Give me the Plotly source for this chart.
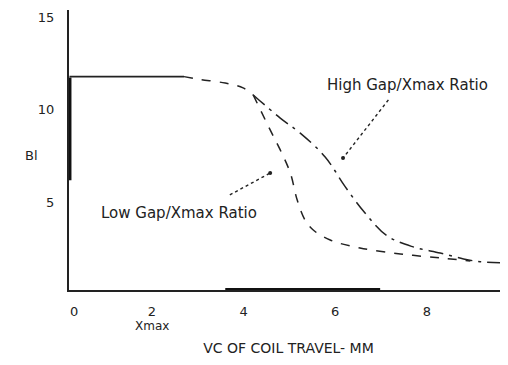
import plotly.graph_objects as go

# ---- data ----
flat_x = [0.2, 2.7]
flat_y = [11.8, 11.8]

common_x = [2.7, 3.05, 3.6, 3.99, 4.21]
common_y = [11.8, 11.65, 11.45, 11.19, 10.81]

high_x = [4.21, 4.8, 5.23, 5.78, 6.22, 6.65, 7.13, 7.7, 8.29, 8.8, 9.16, 9.77]
high_y = [10.81, 9.56, 8.76, 7.46, 5.84, 4.43, 3.2, 2.6, 2.27, 1.95, 1.8, 1.73]

low_x = [4.21, 4.58, 4.8, 5.02, 5.17, 5.34, 5.52, 5.89, 6.54, 7.42, 8.29, 8.95]
low_y = [10.81, 8.92, 7.84, 6.59, 5.13, 4.05, 3.51, 2.97, 2.54, 2.22, 2.0, 1.84]

ybar_x = [0.2, 0.2]
ybar_y = [11.75, 6.2]
xbar_x = [3.6, 6.98]
xbar_y = [0.27, 0.27]

high_label = "High Gap/Xmax Ratio"
high_label_pos = (7.57, 11.35)
high_arrow_x = [7.16, 6.17]
high_arrow_y = [10.54, 7.4]

low_label = "Low Gap/Xmax Ratio"
low_label_pos = (2.6, 4.43)
low_arrow_x = [3.7, 4.58]
low_arrow_y = [5.41, 6.59]

x_tickvals = [0.3, 2, 4, 6, 8]
x_ticktext = ["0", "2", "4", "6", "8"]
y_tickvals = [5, 10, 15]
y_ticktext = ["5", "10", "15"]

FONT = "DejaVu Sans"
INK = "#222"

fig = go.Figure()
fig.add_trace(go.Scatter(x=flat_x, y=flat_y, mode="lines",
                         line=dict(color=INK, width=1.6)))
fig.add_trace(go.Scatter(x=common_x, y=common_y, mode="lines",
                         line=dict(color=INK, width=1.5, dash="dash", shape="spline")))
fig.add_trace(go.Scatter(x=high_x, y=high_y, mode="lines",
                         line=dict(color=INK, width=1.5, dash="longdashdot", shape="spline")))
fig.add_trace(go.Scatter(x=low_x, y=low_y, mode="lines",
                         line=dict(color=INK, width=1.5, dash="dash", shape="spline")))
fig.add_trace(go.Scatter(x=ybar_x, y=ybar_y, mode="lines",
                         line=dict(color="#111", width=4)))
fig.add_trace(go.Scatter(x=xbar_x, y=xbar_y, mode="lines",
                         line=dict(color="#111", width=4)))
# arrow leaders (dotted)
fig.add_trace(go.Scatter(x=high_arrow_x, y=high_arrow_y, mode="lines",
                         line=dict(color=INK, width=1.4, dash="dot")))
fig.add_trace(go.Scatter(x=low_arrow_x, y=low_arrow_y, mode="lines",
                         line=dict(color=INK, width=1.4, dash="dot")))
fig.add_trace(go.Scatter(x=[high_arrow_x[-1], low_arrow_x[-1]],
                         y=[high_arrow_y[-1], low_arrow_y[-1]], mode="markers",
                         marker=dict(color=INK, size=4)))

fig.add_annotation(x=high_label_pos[0], y=high_label_pos[1], text=high_label,
                   showarrow=False, font=dict(family=FONT, size=15, color=INK))
fig.add_annotation(x=low_label_pos[0], y=low_label_pos[1], text=low_label,
                   showarrow=False, font=dict(family=FONT, size=15, color=INK))
fig.add_annotation(x=2, y=0.27, yshift=-36, text="Xmax", showarrow=False,
                   font=dict(family=FONT, size=12, color=INK))
fig.add_annotation(xref="paper", yref="paper", x=-0.105, y=0.48, text="Bl",
                   showarrow=False, font=dict(family=FONT, size=13, color=INK))

# page body has an 8px margin: size the figure so the plot lands where the reference has it
fig.update_layout(
    width=500, height=349,
    margin=dict(l=61, r=0, t=2, b=67),
    paper_bgcolor="white", plot_bgcolor="white",
    showlegend=False,
    font=dict(family=FONT, size=13, color=INK),
    xaxis=dict(range=[0.19, 9.77], showgrid=False, zeroline=False,
               showline=True, linecolor=INK, linewidth=2,
               tickvals=x_tickvals, ticktext=x_ticktext, ticks="",
               ticklabelstandoff=8,
               title=dict(text="VC OF COIL TRAVEL- MM", standoff=26,
                          font=dict(family=FONT, size=14))),
    yaxis=dict(range=[0.27, 15.4], showgrid=False, zeroline=False,
               showline=True, linecolor=INK, linewidth=2,
               tickvals=y_tickvals, ticktext=y_ticktext, ticks="",
               ticklabelstandoff=10),
)

fig.write_html("out.html")
